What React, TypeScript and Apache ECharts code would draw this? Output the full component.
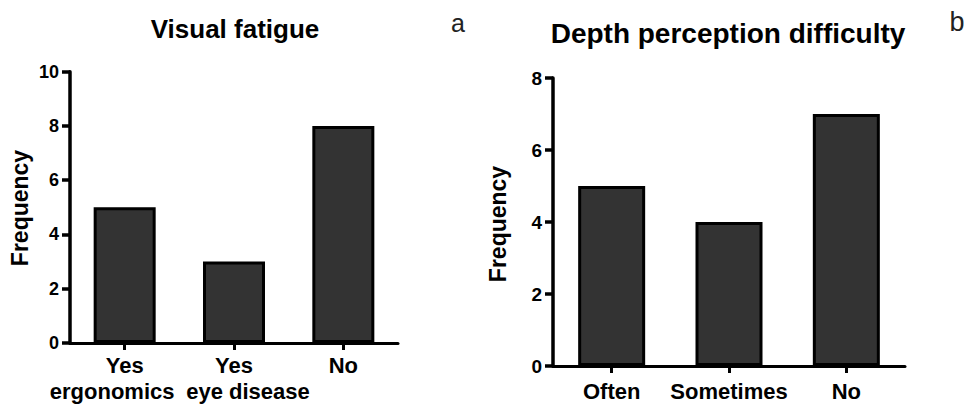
import React, { useEffect, useRef } from "react";
import * as echarts from "echarts";

const catsA = ["Yes\nergonomics", "Yes\neye disease", "No"];
const valsA = [5, 3, 8];
const catsB = ["Often", "Sometimes", "No"];
const valsB = [5, 4, 7];
const titleA = "Visual fatigue";
const titleB = "Depth perception difficulty";
const yName = "Frequency";

const FONT = "'Liberation Sans', Arial, sans-serif";

export default function App() {
  const ref = useRef<HTMLDivElement>(null);
  useEffect(() => {
    if (!ref.current) return;
    const chart = echarts.init(ref.current, null, { renderer: "svg" });
    const ls = (w = 3) => ({ color: "#000", width: w, opacity: 1 });
    const labelFont = { color: "#000", fontFamily: FONT, fontWeight: "bold" as const, fontSize: 22, lineHeight: 26 };
    const xAxisBase = (gridIndex: number, data: string[], margin: number, rich: boolean) => ({
      type: "category",
      gridIndex,
      data,
      z: 10,
      axisLine: { show: true, lineStyle: ls() },
      axisTick: { show: true, alignWithLabel: true, length: 7, lineStyle: ls() },
      axisLabel: {
        ...labelFont,
        margin,
        interval: 0,
        formatter: rich
          ? (v: string, i: number) => {
              const parts = v.split("\n");
              if (parts.length < 2) return `{t|${parts[0]}}`;
              return `{t|${parts[0]}}\n{${i === 0 ? "l" : "r"}|${parts[1]}}`;
            }
          : undefined,
        rich: rich
          ? {
              t: { ...labelFont },
              l: { ...labelFont, padding: [0, 25, 0, 0] },
              r: { ...labelFont, padding: [0, 0, 0, 28] },
            }
          : undefined,
      },
      splitLine: { show: false },
      splitArea: { show: false },
    });
    const yAxisBase = (gridIndex: number, max: number, fontSize: number) => ({
      type: "value",
      gridIndex,
      min: 0,
      max,
      interval: 2,
      z: 20,
      axisLine: { show: true, onZero: false, lineStyle: ls(3.5) },
      axisTick: { show: true, length: 8, lineStyle: ls(3.5) },
      axisLabel: {
        color: "#000",
        fontFamily: FONT,
        fontWeight: "bold",
        fontSize,
        margin: 11,
      },
      splitLine: { show: false },
      splitArea: { show: false },
    });
    const barStyle = { color: "#333333", borderColor: "#000", borderWidth: 3 };
    const txt = (text: string, x: number, y: number, size: number, bold: boolean, rotation = 0, fill = "#000") => ({
      type: "text",
      x,
      y,
      rotation,
      style: {
        text,
        fill,
        font: `${bold ? "bold " : ""}${size}px ${FONT}`,
        textAlign: "center",
        textVerticalAlign: "middle",
        align: "center",
        verticalAlign: "middle",
      },
    });
    chart.setOption({
      animation: false,
      backgroundColor: "#fff",
      grid: [
        { left: 70, top: 71.7, width: 328, height: 273.3, show: false },
        { left: 553, top: 78, width: 352, height: 292, show: false },
      ],
      xAxis: [xAxisBase(0, catsA, 9, true), xAxisBase(1, catsB, 12, false)],
      yAxis: [yAxisBase(0, 10, 18), yAxisBase(1, 8, 19)],
      series: [
        { type: "bar", xAxisIndex: 0, yAxisIndex: 0, data: valsA, barWidth: 62, itemStyle: barStyle },
        { type: "bar", xAxisIndex: 1, yAxisIndex: 1, data: valsB, barWidth: 67, itemStyle: barStyle },
      ],
      graphic: [
        txt(titleA, 235, 29, 26, true),
        txt(titleB, 728, 33, 28, true),
        txt("a", 458, 23, 25, false, 0, "#222"),
        txt("b", 957, 22, 27, false, 0, "#222"),
        txt(yName, 20, 208, 23, true, Math.PI / 2),
        txt(yName, 498, 224, 23, true, Math.PI / 2),
      ],
    });
    return () => chart.dispose();
  }, []);
  return (
    <div
      ref={ref}
      style={{ position: "fixed", left: 0, top: 0, width: 967, height: 404, background: "#fff" }}
    />
  );
}
